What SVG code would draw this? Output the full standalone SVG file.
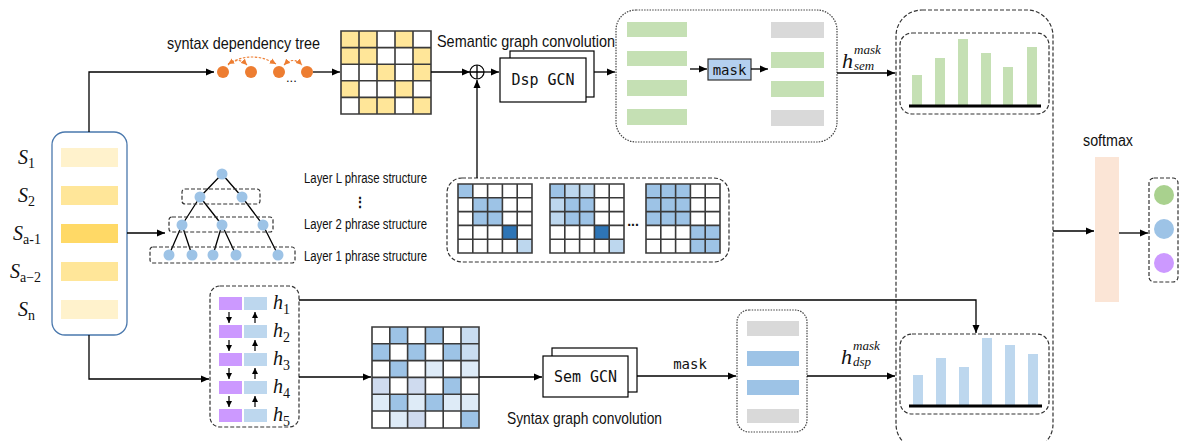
<svg xmlns="http://www.w3.org/2000/svg" width="1179" height="441" viewBox="0 0 1179 441">
<style>
.ln{fill:none;stroke:#000;stroke-width:1.3}
.ar{fill:none;stroke:#000;stroke-width:1.3;marker-end:url(#ah)}
.ars{fill:none;stroke:#000;stroke-width:1.2;marker-end:url(#ahs)}
.dash{fill:none;stroke:#333;stroke-width:1.2;stroke-dasharray:4 2}
.dot{fill:none;stroke:#444;stroke-width:1.2;stroke-dasharray:1.5 1.2}
.grid{fill:none;stroke:#3a3a3a;stroke-width:1.6}
.nar{font-family:"Liberation Sans",Arial,sans-serif;fill:#111}
.mono{font-family:"DejaVu Sans Mono","Liberation Mono",monospace;fill:#111}
.math{font-family:"Liberation Serif","DejaVu Serif",serif;fill:#111}
.it{font-style:italic}
.node{fill:#9dc3e6}
.od{fill:#ed7d31}
.Y{fill:#ffe699}
.M{fill:#9dc3e6}
.L{fill:#bdd7ee}
.D{fill:#2e75b6}
.G{fill:#c5e0b4}
.Gr{fill:#d9d9d9}
.B{fill:#bdd7ee}
.P{fill:#cc99ff}
</style>
<defs>
<marker id="ah" markerUnits="userSpaceOnUse" markerWidth="9" markerHeight="8" refX="8" refY="4" orient="auto"><path d="M0,0.5 L8,4 L0,7.5 Z" fill="#000"/></marker>
<marker id="ahs" markerUnits="userSpaceOnUse" markerWidth="7" markerHeight="6" refX="6" refY="3" orient="auto"><path d="M0,0 L6,3 L0,6 Z" fill="#000"/></marker>
<marker id="oa" markerUnits="userSpaceOnUse" markerWidth="7" markerHeight="6" refX="6" refY="3" orient="auto-start-reverse"><path d="M0,0 L6,3 L0,6 Z" fill="#ed7d31"/></marker>
</defs>

<g id="input">
<rect x="52" y="132" width="75" height="203" rx="13" fill="#fff" stroke="#4a78ad" stroke-width="1.3"/>
<rect x="61" y="148" width="57" height="19" fill="#fff2cc"/>
<rect x="61" y="186" width="57" height="19" fill="#ffe699"/>
<rect x="61" y="224" width="57" height="19" fill="#ffd966"/>
<rect x="61" y="262" width="57" height="19" fill="#ffe699"/>
<rect x="61" y="300" width="57" height="19" fill="#fff2cc"/>
<text class="math" font-size="20" x="18" y="164"><tspan class="it">S</tspan><tspan font-size="14" dy="4">1</tspan></text>
<text class="math" font-size="20" x="18" y="202"><tspan class="it">S</tspan><tspan font-size="14" dy="4">2</tspan></text>
<text class="math" font-size="20" x="13" y="240"><tspan class="it">S</tspan><tspan font-size="14" dy="4">a-1</tspan></text>
<text class="math" font-size="20" x="10" y="278"><tspan class="it">S</tspan><tspan font-size="14" dy="4">a−2</tspan></text>
<text class="math" font-size="20" x="18" y="316"><tspan class="it">S</tspan><tspan font-size="14" dy="4">n</tspan></text>
</g>

<g id="dep-tree">
<text class="nar" font-size="17" x="167" y="49" textLength="153" lengthAdjust="spacingAndGlyphs">syntax dependency tree</text>
<path d="M228,65 Q238,56 247,65" fill="none" stroke="#ed7d31" stroke-width="1.1" stroke-dasharray="2.5 1.5" marker-end="url(#oa)"/>
<path d="M228,64 Q252,50 276,64" fill="none" stroke="#ed7d31" stroke-width="1.1" stroke-dasharray="2.5 1.5" marker-start="url(#oa)" marker-end="url(#oa)"/>
<path d="M284,65 Q293,56 302,65" fill="none" stroke="#ed7d31" stroke-width="1.1" stroke-dasharray="2.5 1.5" marker-start="url(#oa)" marker-end="url(#oa)"/>
<circle class="od" cx="223" cy="72" r="6"/>
<circle class="od" cx="251" cy="72" r="6"/>
<circle class="od" cx="279" cy="72" r="6"/>
<circle class="od" cx="307" cy="72" r="6"/>
<text class="nar" font-size="13" x="286" y="82">...</text>
</g>

<g id="dep-matrix">
<rect class="Y" x="341" y="31" width="18" height="16.6"/><rect class="Y" x="359" y="31" width="18" height="16.6"/><rect class="Y" x="395" y="31" width="18" height="16.6"/>
<rect class="Y" x="341" y="47.6" width="18" height="16.6"/><rect class="Y" x="359" y="47.6" width="18" height="16.6"/><rect class="Y" x="413" y="47.6" width="18" height="16.6"/>
<rect class="Y" x="377" y="64.2" width="18" height="16.6"/><rect class="Y" x="413" y="64.2" width="18" height="16.6"/>
<rect class="Y" x="341" y="80.8" width="18" height="16.6"/><rect class="Y" x="395" y="80.8" width="18" height="16.6"/>
<rect class="Y" x="359" y="97.4" width="18" height="16.6"/><rect class="Y" x="377" y="97.4" width="18" height="16.6"/><rect class="Y" x="413" y="97.4" width="18" height="16.6"/>
<path class="grid" d="M341,31H431V114H341Z M359,31V114 M377,31V114 M395,31V114 M413,31V114 M341,47.6H431 M341,64.2H431 M341,80.8H431 M341,97.4H431"/>
</g>

<g id="sum">
<circle cx="477" cy="72" r="7" fill="#fff" stroke="#000" stroke-width="1.2"/>
<path class="ln" d="M470,72H484 M477,65V79"/>
</g>

<g id="dsp-gcn">
<text class="nar" font-size="17" x="437" y="47" textLength="178" lengthAdjust="spacingAndGlyphs">Semantic graph convolution</text>
<rect x="510" y="51" width="84" height="46" fill="#fff" stroke="#000" stroke-width="1.2"/>
<rect x="500" y="58" width="86" height="44" fill="#fff" stroke="#000" stroke-width="1.2"/>
<text class="mono" font-size="15" x="543" y="85" text-anchor="middle">Dsp GCN</text>
</g>

<g id="sem-mask">
<rect class="dot" x="616" y="10" width="221" height="132" rx="20"/>
<rect class="G" x="627" y="22" width="60" height="15"/>
<rect class="G" x="627" y="51" width="60" height="15"/>
<rect class="G" x="627" y="80" width="60" height="16"/>
<rect class="G" x="627" y="109" width="60" height="16"/>
<rect class="Gr" x="771" y="22" width="53" height="16"/>
<rect class="G" x="771" y="52" width="53" height="16"/>
<rect class="G" x="771" y="81" width="53" height="16"/>
<rect class="Gr" x="771" y="110" width="53" height="16"/>
<rect x="708" y="59" width="43" height="21" fill="#b4d0ef" stroke="#333" stroke-width="1.2"/>
<text class="mono" font-size="14" x="729.5" y="74.5" text-anchor="middle">mask</text>
</g>

<g id="phrase-tree">
<path class="ln" stroke-width="1.1" d="M222,174L200,197 M222,174L242,197 M200,197L182,225 M200,197L222,225 M242,197L263,225 M182,225L169,255 M182,225L192,255 M222,225L213,255 M222,225L236,255 M263,225L278,255"/>
<rect class="dash" x="182" y="189" width="78" height="15" rx="3"/>
<rect class="dash" x="169" y="217" width="104" height="15" rx="3"/>
<rect class="dash" x="150" y="247" width="145" height="16" rx="3"/>
<circle class="node" cx="222" cy="174" r="5.5"/>
<circle class="node" cx="200" cy="197" r="5.5"/><circle class="node" cx="242" cy="197" r="5.5"/>
<circle class="node" cx="182" cy="225" r="5.5"/><circle class="node" cx="222" cy="225" r="5.5"/><circle class="node" cx="263" cy="225" r="5.5"/>
<circle class="node" cx="169" cy="255" r="5.5"/><circle class="node" cx="192" cy="255" r="5.5"/><circle class="node" cx="213" cy="255" r="5.5"/><circle class="node" cx="236" cy="255" r="5.5"/><circle class="node" cx="278" cy="255" r="5.5"/>
<text class="nar" font-size="14" x="304" y="183" textLength="123" lengthAdjust="spacingAndGlyphs">Layer L phrase structure</text>
<text class="nar" font-size="14" x="360" y="207" text-anchor="middle" font-weight="bold">⋮</text>
<text class="nar" font-size="14" x="304" y="229" textLength="123" lengthAdjust="spacingAndGlyphs">Layer 2 phrase structure</text>
<text class="nar" font-size="14" x="304" y="261" textLength="123" lengthAdjust="spacingAndGlyphs">Layer 1 phrase structure</text>
</g>

<g id="phrase-matrices">
<rect class="dash" x="447" y="178" width="282" height="84" rx="15"/>
<g transform="translate(458,184)">
<rect class="M" x="0" y="0" width="14.8" height="13.8"/>
<rect class="M" x="14.8" y="13.8" width="29.6" height="27.6"/>
<rect class="D" x="44.4" y="41.4" width="14.8" height="13.8"/>
<rect class="L" x="59.2" y="55.2" width="14.8" height="13.8"/>
<path class="grid" d="M0,0H74V69H0Z M14.8,0V69 M29.6,0V69 M44.4,0V69 M59.2,0V69 M0,13.8H74 M0,27.6H74 M0,41.4H74 M0,55.2H74"/>
</g>
<g transform="translate(550,184)">
<rect class="L" x="0" y="0" width="44.4" height="41.4"/>
<rect class="M" x="0" y="0" width="14.8" height="13.8"/>
<rect class="M" x="14.8" y="13.8" width="29.6" height="27.6"/>
<rect class="D" x="44.4" y="41.4" width="14.8" height="13.8"/>
<rect class="L" x="59.2" y="55.2" width="14.8" height="13.8"/>
<path class="grid" d="M0,0H74V69H0Z M14.8,0V69 M29.6,0V69 M44.4,0V69 M59.2,0V69 M0,13.8H74 M0,27.6H74 M0,41.4H74 M0,55.2H74"/>
</g>
<text class="nar" font-size="14" x="633" y="226" text-anchor="middle" font-weight="bold">...</text>
<g transform="translate(646,184)">
<rect class="M" x="0" y="0" width="44.4" height="41.4"/>
<rect class="M" x="44.4" y="41.4" width="29.6" height="27.6"/>
<path class="grid" d="M0,0H74V69H0Z M14.8,0V69 M29.6,0V69 M44.4,0V69 M59.2,0V69 M0,13.8H74 M0,27.6H74 M0,41.4H74 M0,55.2H74"/>
</g>
</g>

<g id="bilstm">
<rect class="dash" x="210" y="286" width="89" height="141" rx="10"/>
<rect class="P" x="219" y="297" width="23" height="13"/><rect class="B" x="244" y="297" width="23" height="13"/>
<rect class="P" x="219" y="325" width="23" height="13"/><rect class="B" x="244" y="325" width="23" height="13"/>
<rect class="P" x="219" y="353" width="23" height="13"/><rect class="B" x="244" y="353" width="23" height="13"/>
<rect class="P" x="219" y="381" width="23" height="13"/><rect class="B" x="244" y="381" width="23" height="13"/>
<rect class="P" x="219" y="409" width="23" height="13"/><rect class="B" x="244" y="409" width="23" height="13"/>
<path class="ars" d="M229,312V323"/><path class="ars" d="M229,340V351"/><path class="ars" d="M229,368V379"/><path class="ars" d="M229,396V407"/>
<path class="ars" d="M255,323V312"/><path class="ars" d="M255,351V340"/><path class="ars" d="M255,379V368"/><path class="ars" d="M255,407V396"/>
<text class="math" font-size="20" x="273" y="309"><tspan class="it">h</tspan><tspan font-size="14" dy="5">1</tspan></text>
<text class="math" font-size="20" x="273" y="337"><tspan class="it">h</tspan><tspan font-size="14" dy="5">2</tspan></text>
<text class="math" font-size="20" x="273" y="365"><tspan class="it">h</tspan><tspan font-size="14" dy="5">3</tspan></text>
<text class="math" font-size="20" x="273" y="393"><tspan class="it">h</tspan><tspan font-size="14" dy="5">4</tspan></text>
<text class="math" font-size="20" x="273" y="421"><tspan class="it">h</tspan><tspan font-size="14" dy="5">5</tspan></text>
</g>

<g id="syn-matrix" transform="translate(372,327)">
<rect class="M" x="17.8" y="0" width="17.8" height="16.8"/><rect class="M" x="53.4" y="0" width="17.8" height="16.8"/><rect fill="#c9ddf1" x="89" y="0" width="17.8" height="16.8"/>
<rect class="M" x="0" y="16.8" width="17.8" height="16.8"/><rect class="M" x="35.6" y="16.8" width="17.8" height="16.8"/><rect class="M" x="71.2" y="16.8" width="17.8" height="16.8"/><rect fill="#c9ddf1" x="89" y="16.8" width="17.8" height="16.8"/>
<rect class="M" x="17.8" y="33.6" width="17.8" height="16.8"/><rect fill="#deebf7" x="53.4" y="33.6" width="17.8" height="16.8"/><rect fill="#deebf7" x="89" y="33.6" width="17.8" height="16.8"/>
<rect fill="#cfdbef" x="0" y="50.4" width="17.8" height="16.8"/><rect fill="#cfdbef" x="35.6" y="50.4" width="17.8" height="16.8"/><rect class="M" x="71.2" y="50.4" width="17.8" height="16.8"/>
<rect fill="#deebf7" x="0" y="67.2" width="17.8" height="16.8"/><rect class="M" x="17.8" y="67.2" width="17.8" height="16.8"/><rect fill="#deebf7" x="35.6" y="67.2" width="17.8" height="16.8"/><rect class="M" x="53.4" y="67.2" width="17.8" height="16.8"/><rect fill="#deebf7" x="71.2" y="67.2" width="17.8" height="16.8"/><rect fill="#deebf7" x="89" y="67.2" width="17.8" height="16.8"/>
<rect fill="#deebf7" x="17.8" y="84" width="17.8" height="16.8"/><rect fill="#cfdbef" x="35.6" y="84" width="17.8" height="16.8"/><rect class="M" x="89" y="84" width="17.8" height="16.8"/>
<path class="grid" d="M0,0H107V101H0Z M17.8,0V101 M35.6,0V101 M53.4,0V101 M71.2,0V101 M89,0V101 M0,16.8H107 M0,33.6H107 M0,50.4H107 M0,67.2H107 M0,84H107"/>
</g>

<g id="sem-gcn">
<rect x="552" y="348" width="85" height="44" fill="#fff" stroke="#000" stroke-width="1.2"/>
<rect x="543" y="356" width="85" height="41" fill="#fff" stroke="#000" stroke-width="1.2"/>
<text class="mono" font-size="15" x="585.5" y="382" text-anchor="middle">Sem GCN</text>
<text class="nar" font-size="17" x="507" y="424" textLength="155" lengthAdjust="spacingAndGlyphs">Syntax graph convolution</text>
</g>

<g id="dsp-mask">
<rect class="dot" x="737" y="310" width="70" height="122" rx="12"/>
<rect class="Gr" x="747" y="321" width="52" height="15"/>
<rect class="M" x="747" y="351" width="52" height="15"/>
<rect class="M" x="747" y="380" width="52" height="15"/>
<rect class="Gr" x="747" y="409" width="52" height="14"/>
</g>

<g id="fusion">
<rect class="dash" x="896" y="10" width="157" height="440" rx="26"/>
<rect class="dash" x="900" y="33" width="149" height="81" rx="12"/>
<rect class="G" x="912" y="75" width="10" height="31"/>
<rect class="G" x="935" y="58" width="10" height="48"/>
<rect class="G" x="958" y="39" width="10" height="67"/>
<rect class="G" x="981" y="53" width="10" height="53"/>
<rect class="G" x="1003" y="67" width="10" height="39"/>
<rect class="G" x="1027" y="47" width="10" height="59"/>
<rect x="909" y="104.5" width="132" height="3" fill="#000"/>
<rect class="dash" x="900" y="334" width="149" height="80" rx="12"/>
<rect class="B" x="913" y="375" width="10" height="31"/>
<rect class="B" x="936" y="358" width="10" height="48"/>
<rect class="B" x="959" y="367" width="10" height="39"/>
<rect class="B" x="982" y="338" width="10" height="68"/>
<rect class="B" x="1005" y="345" width="10" height="61"/>
<rect class="B" x="1028" y="354" width="10" height="52"/>
<rect x="909" y="404.5" width="133" height="3" fill="#000"/>
</g>

<g id="softmax">
<rect x="1095" y="157" width="24" height="145" fill="#fbe5d6"/>
<text class="nar" font-size="16" x="1108" y="146" text-anchor="middle" textLength="50" lengthAdjust="spacingAndGlyphs">softmax</text>
</g>

<g id="output">
<rect class="dash" x="1149" y="178" width="29" height="104" rx="5"/>
<circle cx="1164" cy="195" r="10" fill="#a9d18e"/>
<circle cx="1164" cy="229" r="10" fill="#9dc3e6"/>
<circle cx="1164" cy="263" r="10" fill="#cc99ff"/>
</g>

<g id="connectors">
<path class="ar" d="M89,132V72H214"/>
<path class="ar" d="M313,72H340"/>
<path class="ar" d="M431,72H470"/>
<path class="ar" d="M484,72H499"/>
<path class="ar" d="M594,72H615"/>
<path class="ar" d="M477,178V80"/>
<path class="ar" d="M690,69H707"/>
<path class="ar" d="M751,69H768"/>
<path class="ar" d="M837,73H895"/>
<path class="ar" d="M127,233H165"/>
<path class="ar" d="M89,335V379H209"/>
<path class="ar" d="M299,300H976V333"/>
<path class="ar" d="M299,377H371"/>
<path class="ar" d="M479,377H542"/>
<path class="ar" d="M637,376H736"/>
<path class="ar" d="M807,376H895"/>
<path class="ar" d="M1053,231H1094"/>
<path class="ar" d="M1119,233H1148"/>
<text class="mono" font-size="14" x="690" y="369" text-anchor="middle">mask</text>
<text class="math it" font-size="22" x="842" y="68">h</text>
<text class="math it" font-size="13" x="854" y="54">mask</text>
<text class="math it" font-size="13" x="854" y="70">sem</text>
<text class="math it" font-size="22" x="841" y="364">h</text>
<text class="math it" font-size="13" x="853" y="350">mask</text>
<text class="math it" font-size="13" x="853" y="366">dsp</text>
</g>
</svg>
